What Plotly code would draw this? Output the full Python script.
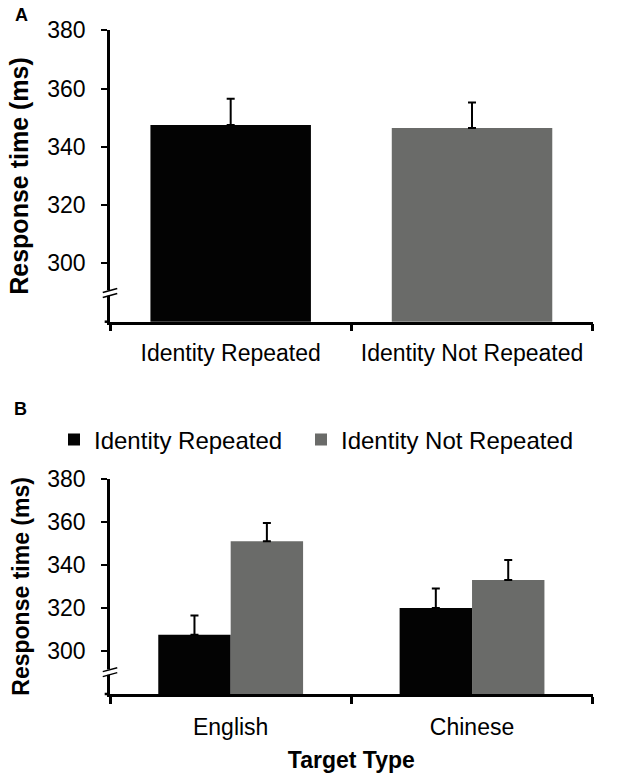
import plotly.graph_objects as go

# ---- data ----
panel_a_categories = ["Identity Repeated", "Identity Not Repeated"]
panel_a_means = [347.5, 346.5]
panel_a_se = [9.0, 8.7]

target_types = ["English", "Chinese"]
repeated_means = [307.5, 320.0]
repeated_se = [9.0, 9.0]
not_repeated_means = [351.0, 333.0]
not_repeated_se = [8.5, 9.3]

y_ticks = [300, 320, 340, 360, 380]
y_range = [280, 380]
break_value = 289

BLACK = "#030303"
GRAY = "#6a6b69"
FONT = "Liberation Sans, Arial, sans-serif"

fig = go.Figure()

# Panel A
fig.add_trace(go.Bar(
    x=panel_a_categories, y=panel_a_means,
    marker=dict(color=[BLACK, GRAY], line=dict(width=0)),
    width=0.665,
    error_y=dict(type="data", array=panel_a_se, arrayminus=[0] * len(panel_a_se),
                 symmetric=False, color="black", thickness=2, width=4),
    xaxis="x", yaxis="y", showlegend=False,
))

# Panel B
fig.add_trace(go.Bar(
    x=target_types, y=repeated_means, name="Identity Repeated",
    marker=dict(color=BLACK, line=dict(width=0)),
    error_y=dict(type="data", array=repeated_se, arrayminus=[0] * len(repeated_se),
                 symmetric=False, color="black", thickness=2, width=4),
    xaxis="x2", yaxis="y2", legend="legend",
))
fig.add_trace(go.Bar(
    x=target_types, y=not_repeated_means, name="Identity Not Repeated",
    marker=dict(color=GRAY, line=dict(width=0)),
    error_y=dict(type="data", array=not_repeated_se, arrayminus=[0] * len(not_repeated_se),
                 symmetric=False, color="black", thickness=2, width=4),
    xaxis="x2", yaxis="y2", legend="legend2",
))

W, H = 630, 780
xdom = [110 / W, 592.7 / W]
ydomA = [1 - 321.7 / H, 1 - 30.3 / H]
ydomB = [1 - 694 / H, 1 - 478.8 / H]

xaxis_common = dict(
    domain=xdom, showline=True, linecolor="black", linewidth=2.5, automargin=False,
    ticks="outside", tickson="boundaries", ticklen=7, tickwidth=2.5, tickcolor="black",
    showgrid=False, zeroline=False,
    tickfont=dict(family=FONT, size=23, color="black"),
)
yaxis_common = dict(
    range=y_range, tickvals=y_ticks, showline=True, linecolor="black", linewidth=2.5,
    automargin=False, ticklabelstandoff=11,
    ticks="outside", ticklen=6, tickwidth=2, tickcolor="black",
    showgrid=False, zeroline=False,
    tickfont=dict(family=FONT, size=23, color="black"),
)

legend_common = dict(orientation="h", xanchor="left", yanchor="middle",
                     font=dict(family=FONT, size=24, color="black"),
                     bgcolor="rgba(0,0,0,0)", itemclick=False, itemdoubleclick=False)

fig.update_layout(
    template="none",
    width=W, height=H, autosize=False,
    margin=dict(l=0, r=0, t=0, b=0, pad=0),
    paper_bgcolor="white", plot_bgcolor="white",
    barmode="group", bargap=0.4, bargroupgap=0,
    font=dict(family=FONT, color="black"),
    xaxis=dict(**xaxis_common, anchor="y", ticklabelstandoff=9),
    yaxis=dict(**yaxis_common, domain=ydomA, anchor="x",
               title=dict(text="<b>Response time (ms)</b>", standoff=12,
                          font=dict(family=FONT, size=25, color="black"))),
    xaxis2=dict(**xaxis_common, anchor="y2", ticklabelstandoff=11,
                title=dict(text="<b>Target Type</b>", standoff=13,
                           font=dict(family=FONT, size=23, color="black"))),
    yaxis2=dict(**yaxis_common, domain=ydomB, anchor="x2",
                title=dict(text="<b>Response time (ms)</b>", standoff=12,
                           font=dict(family=FONT, size=23, color="black"))),
    legend=dict(**legend_common, x=54 / W, y=1 - 440 / H),
    legend2=dict(**legend_common, x=301 / W, y=1 - 440 / H),
)

# panel letters
fig.add_annotation(text="<b>A</b>", x=13 / W, y=1 - 15 / H, xref="paper", yref="paper",
                   xanchor="left", yanchor="middle", showarrow=False,
                   font=dict(family=FONT, size=18, color="black"))
fig.add_annotation(text="<b>B</b>", x=12 / W, y=1 - 409 / H, xref="paper", yref="paper",
                   xanchor="left", yanchor="middle", showarrow=False,
                   font=dict(family=FONT, size=18, color="black"))

# x-axis line extends slightly left of the y-axis
for xref, yref in (("x domain", "y domain"), ("x2 domain", "y2 domain")):
    fig.add_shape(type="line", xref=xref, yref=yref, x0=-0.011, x1=0, y0=0, y1=0,
                  line=dict(color="black", width=2.5), layer="above")

# axis break marks
for yref, pxms in (("y", 2.9125), ("y2", 2.16)):
    d_slant = 4 / pxms
    d_sep = 5 / pxms
    xref = "x domain" if yref == "y" else "x2 domain"
    fig.add_shape(type="rect", xref=xref, yref=yref, x0=-0.01, x1=0.01,
                  y0=break_value - 0.2 / pxms, y1=break_value + d_sep + 0.2 / pxms,
                  fillcolor="white", line=dict(width=0), layer="above")
    for k in (0, 1):
        yb = break_value - d_slant / 2 + k * d_sep
        fig.add_shape(type="line", xref=xref, yref=yref, x0=-0.015, x1=0.015,
                      y0=yb, y1=yb + d_slant, line=dict(color="black", width=1.5),
                      layer="above")

fig.write_html("out.html", config={"displayModeBar": False},
               post_script="document.body.style.margin='0px';")
